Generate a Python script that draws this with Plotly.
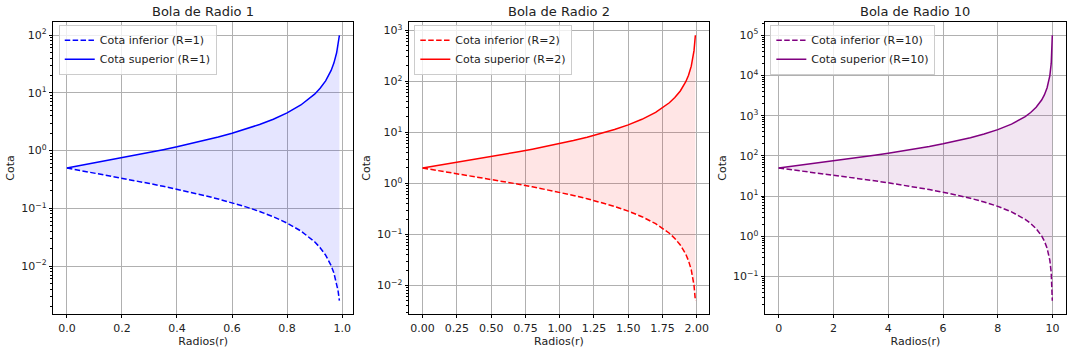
import math
import plotly.graph_objects as go

# ---------------- data ----------------
r_R1 = [0, 0.05, 0.1, 0.15, 0.2, 0.25, 0.3, 0.35, 0.4, 0.45, 0.5, 0.55, 0.6, 0.65, 0.7,
        0.75, 0.8, 0.85, 0.9, 0.92, 0.94, 0.96, 0.97, 0.98, 0.985, 0.99]
inf_R1 = [0.5, 0.45238, 0.40909, 0.36957, 0.33333, 0.3, 0.26923, 0.24074, 0.21429, 0.18966,
          0.16667, 0.14516, 0.125, 0.10606, 0.088235, 0.071429, 0.055556, 0.040541, 0.026316,
          0.020833, 0.015464, 0.010204, 0.0076142, 0.0050505, 0.0037783, 0.0025126]
sup_R1 = [0.5, 0.5526, 0.6111, 0.6765, 0.75, 0.8333, 0.9286, 1.0385, 1.1667, 1.3182, 1.5,
          1.7222, 2.0, 2.3571, 2.8333, 3.5, 4.5, 6.1667, 9.5, 12.0, 16.167, 24.5, 32.833,
          49.5, 66.167, 99.5]

r_R2 = [0, 0.1, 0.2, 0.3, 0.4, 0.5, 0.6, 0.7, 0.8, 0.9, 1.0, 1.1, 1.2, 1.3, 1.4, 1.5, 1.6,
        1.7, 1.8, 1.84, 1.88, 1.92, 1.94, 1.96, 1.97, 1.98, 1.99]
inf_R2 = [2, 1.8095, 1.6364, 1.4783, 1.3333, 1.2, 1.0769, 0.96296, 0.85714, 0.75862, 0.66667,
          0.58065, 0.5, 0.42424, 0.35294, 0.28571, 0.22222, 0.16216, 0.10526, 0.083333,
          0.061856, 0.040816, 0.030457, 0.020202, 0.015113, 0.010050, 0.0050125]
sup_R2 = [2, 2.2105, 2.4444, 2.7059, 3.0, 3.3333, 3.7143, 4.1538, 4.6667, 5.2727, 6.0, 6.8889,
          8.0, 9.4286, 11.333, 14.0, 18.0, 24.667, 38.0, 48.0, 64.667, 98.0, 131.33, 198.0,
          264.67, 398.0, 798.0]

r_R10 = [0, 0.5, 1, 1.5, 2, 2.5, 3, 3.5, 4, 4.5, 5, 5.5, 6, 6.5, 7, 7.5, 8, 8.5, 9, 9.2, 9.4,
         9.6, 9.7, 9.8, 9.85, 9.9, 9.95, 9.99]
inf_R10 = [50, 45.238, 40.909, 36.957, 33.333, 30, 26.923, 24.074, 21.429, 18.966, 16.667,
           14.516, 12.5, 10.606, 8.8235, 7.1429, 5.5556, 4.0541, 2.6316, 2.0833, 1.5464,
           1.0204, 0.76142, 0.50505, 0.37783, 0.25126, 0.12531, 0.025013]
sup_R10 = [50, 55.263, 61.111, 67.647, 75, 83.333, 92.857, 103.85, 116.67, 131.82, 150,
           172.22, 200, 235.71, 283.33, 350, 450, 616.67, 950, 1200, 1616.7, 2450, 3283.3,
           4950, 6616.7, 9950, 19950, 99950]

titles = ["Bola de Radio 1", "Bola de Radio 2", "Bola de Radio 10"]
radii = ["1", "2", "10"]

yt_vals_1 = [0.01, 0.1, 1, 10, 100]
yt_text_1 = ["10<sup>−2</sup>", "10<sup>−1</sup>", "10<sup>0</sup>", "10<sup>1</sup>", "10<sup>2</sup>"]
yt_vals_2 = [0.01, 0.1, 1, 10, 100, 1000]
yt_text_2 = ["10<sup>−2</sup>", "10<sup>−1</sup>", "10<sup>0</sup>", "10<sup>1</sup>",
             "10<sup>2</sup>", "10<sup>3</sup>"]
yt_vals_3 = [0.1, 1, 10, 100, 1000, 10000, 100000]
yt_text_3 = ["10<sup>−1</sup>", "10<sup>0</sup>", "10<sup>1</sup>", "10<sup>2</sup>",
             "10<sup>3</sup>", "10<sup>4</sup>", "10<sup>5</sup>"]

# ---------------- styling ----------------
FONT = "DejaVu Sans"
colors = ["blue", "red", "purple"]
fills = ["rgba(0,0,255,0.1)", "rgba(255,0,0,0.1)", "rgba(128,0,128,0.1)"]
xdomains = [[0.0497, 0.3293], [0.3815, 0.6614], [0.7136, 0.9944]]
ydomain = [0.108, 0.9375]
legend_x = [0.0548, 0.3865, 0.7186]

series = [(r_R1, inf_R1, sup_R1), (r_R2, inf_R2, sup_R2), (r_R10, inf_R10, sup_R10)]
yticks = [(yt_vals_1, yt_text_1), (yt_vals_2, yt_text_2), (yt_vals_3, yt_text_3)]

fig = go.Figure()

for i, (r, lo, hi) in enumerate(series):
    sfx = "" if i == 0 else str(i + 1)
    leg = "legend" if i == 0 else f"legend{i + 1}"
    # shaded band between the bounds (no legend entry)
    fig.add_trace(go.Scatter(
        x=r, y=lo, mode="lines", line=dict(width=0, color=fills[i]),
        showlegend=False, hoverinfo="skip", xaxis="x" + sfx, yaxis="y" + sfx))
    fig.add_trace(go.Scatter(
        x=r, y=hi, mode="lines", line=dict(width=0, color=fills[i]),
        fill="tonexty", fillcolor=fills[i],
        showlegend=False, hoverinfo="skip", xaxis="x" + sfx, yaxis="y" + sfx))
    # bound curves
    fig.add_trace(go.Scatter(
        x=r, y=lo, mode="lines", name=f"Cota inferior (R={radii[i]})",
        line=dict(color=colors[i], width=1.5, dash="5.5px,2.4px"),
        xaxis="x" + sfx, yaxis="y" + sfx, legend=leg))
    fig.add_trace(go.Scatter(
        x=r, y=hi, mode="lines", name=f"Cota superior (R={radii[i]})",
        line=dict(color=colors[i], width=1.5),
        xaxis="x" + sfx, yaxis="y" + sfx, legend=leg))

layout = dict(
    width=1072, height=352, margin=dict(l=0, r=0, t=0, b=0),
    paper_bgcolor="white", plot_bgcolor="white",
    font=dict(family=FONT, size=11, color="black"),
    annotations=[],
)

axis_common = dict(
    showline=True, linecolor="black", linewidth=0.8, mirror=True,
    ticks="outside", ticklen=3.5, tickwidth=0.8, tickcolor="black",
    showgrid=True, gridcolor="#b0b0b0", gridwidth=0.8, zeroline=False,
    tickfont=dict(family=FONT, size=11, color="#222222"),
)

for i, (r, lo, hi) in enumerate(series):
    sfx = "" if i == 0 else str(i + 1)
    xmax = max(r)
    xpad = 0.05 * xmax
    lmin = math.log10(min(lo))
    lmax = math.log10(max(hi))
    ypad = 0.05 * (lmax - lmin)
    if i == 0:
        xt = dict(tickmode="linear", tick0=0, dtick=0.2, tickformat=".1f")
    elif i == 1:
        xt = dict(tickmode="linear", tick0=0, dtick=0.25, tickformat=".2f")
    else:
        xt = dict(tickmode="linear", tick0=0, dtick=2, tickformat="d")
    layout["xaxis" + sfx] = dict(
        axis_common, domain=xdomains[i], anchor="y" + sfx,
        range=[-xpad, xmax + xpad],
        title=dict(text="Radios(r)", font=dict(family=FONT, size=11, color="#222222"), standoff=3),
        **xt)
    e0 = math.floor(lmin - ypad)
    e1 = math.ceil(lmax + ypad)
    minor_vals = [m * 10 ** e for e in range(e0, e1 + 1) for m in range(2, 10)]
    layout["yaxis" + sfx] = dict(
        axis_common, domain=ydomain, anchor="x" + sfx, type="log",
        range=[lmin - ypad, lmax + ypad],
        tickmode="array", tickvals=yticks[i][0], ticktext=yticks[i][1],
        minor=dict(tickmode="array", tickvals=minor_vals, ticks="outside", ticklen=2,
                   tickwidth=0.6, tickcolor="black", showgrid=False),
        title=dict(text="Cota", font=dict(family=FONT, size=11, color="#222222"), standoff=4),
    )
    layout["legend" if i == 0 else f"legend{i + 1}"] = dict(
        x=legend_x[i], y=0.93, xanchor="left", yanchor="top",
        bgcolor="rgba(255,255,255,0.8)", bordercolor="#cccccc", borderwidth=1,
        font=dict(family=FONT, size=11, color="#222222"),
        traceorder="normal", tracegroupgap=0, itemwidth=30,
    )
    layout["annotations"].append(dict(
        text=titles[i], xref="paper", yref="paper",
        x=(xdomains[i][0] + xdomains[i][1]) / 2, y=ydomain[1],
        xanchor="center", yanchor="bottom", yshift=1, showarrow=False,
        font=dict(family=FONT, size=13, color="#222222")))

fig.update_layout(**layout)
fig.write_html("out.html")
